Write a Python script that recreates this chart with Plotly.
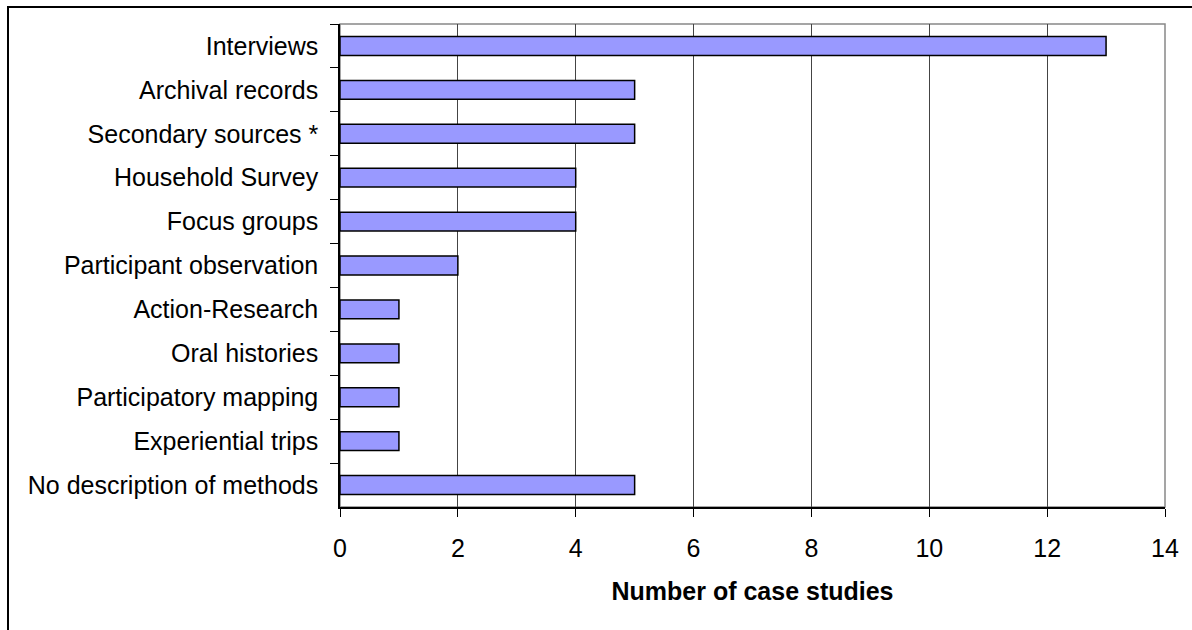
import plotly.graph_objects as go

categories = ["Interviews", "Archival records", "Secondary sources *", "Household Survey",
              "Focus groups", "Participant observation", "Action-Research", "Oral histories",
              "Participatory mapping", "Experiential trips", "No description of methods"]
values = [13, 5, 5, 4, 4, 2, 1, 1, 1, 1, 5]
x_ticks = [0, 2, 4, 6, 8, 10, 12, 14]
x_title = "Number of case studies"

L, R, T, B = 340, 1165, 24, 507
W, H = 1192, 630
pw, ph = R - L, B - T

fig = go.Figure(go.Bar(
    x=values, y=categories, orientation="h",
    marker=dict(color="#9999FF", line=dict(color="black", width=1.5)),
    width=0.43,
))

fig.update_layout(
    width=W, height=H,
    margin=dict(l=L, r=W - R, t=T, b=H - B),
    plot_bgcolor="white", paper_bgcolor="white",
    font=dict(family="Liberation Sans, Arial, sans-serif", size=25, color="black"),
    showlegend=False,
    xaxis=dict(range=[0, 14], tickvals=x_ticks, showgrid=True, gridcolor="#444444", gridwidth=1,
               showline=True, linecolor="black", linewidth=1.5, ticks="outside", ticklen=8,
               tickcolor="black", zeroline=False, ticklabelstandoff=10,
               title=dict(text="<b>" + x_title + "</b>", standoff=22, font=dict(size=25)),
               tickfont=dict(size=25)),
    yaxis=dict(type="category", autorange="reversed", categoryorder="array", categoryarray=categories,
               showline=True, linecolor="black", linewidth=1.5, ticks="outside", ticklen=8,
               tickcolor="black", tickson="boundaries", showgrid=False,
               ticklabelstandoff=15, tickfont=dict(size=25)),
    shapes=[
        dict(type="rect", xref="paper", yref="paper", x0=0, x1=1, y0=0, y1=1,
             line=dict(color="#888888", width=1.5), layer="below"),
        dict(type="rect", xref="paper", yref="paper",
             x0=(8 - L) / pw, x1=(W + 10 - L) / pw, y0=(B - (H + 10)) / ph, y1=(B - 7) / ph,
             line=dict(color="black", width=2)),
    ],
)

fig.write_html("out.html")
